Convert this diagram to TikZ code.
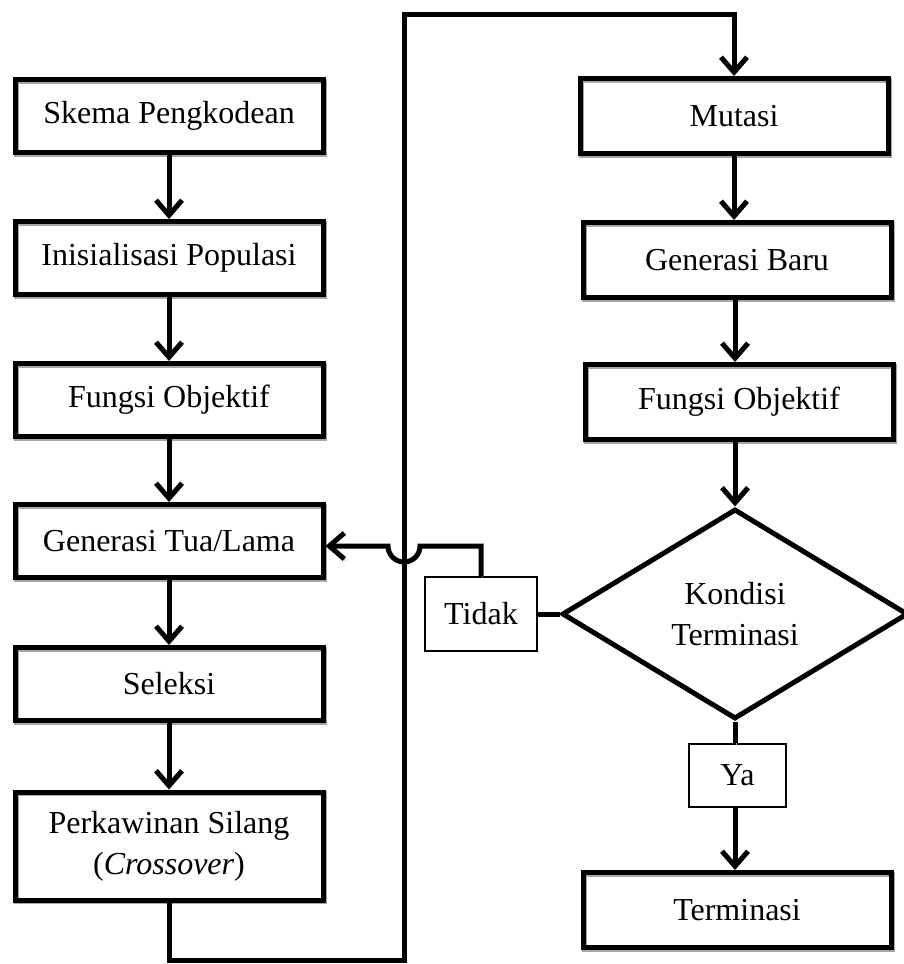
\documentclass[tikz,border=0pt]{standalone}
\usepackage{fontspec}
\setmainfont{Liberation Serif}
\usetikzlibrary{arrows.meta,shapes.geometric}
\begin{document}
\begin{tikzpicture}[x=1pt,y=-1pt,
  every node/.style={font=\fontsize{32}{41}\selectfont},
  shade line/.style={preaction={draw=black!35,transform canvas={shift={(1.6pt,-1.6pt)}}}},
  stepbox/.style={draw,line width=5pt,minimum width=308pt,minimum height=73pt,inner sep=0pt,align=center,shade line},
  decision/.style={draw,line width=5pt,diamond,minimum width=346pt,minimum height=210pt,inner sep=0pt,align=center},
  tag/.style={draw,line width=1.8pt,inner sep=0pt,align=center},
  conn/.style={line width=5pt,shade line},
  flow/.style={conn,-{Straight Barb[length=15pt,width=26pt]}}]
\useasboundingbox (0,0) rectangle (903,964);

% left column
\node[stepbox] (skema) at (169,116) {Skema Pengkodean};
\node[stepbox] (init)  at (169,258) {Inisialisasi Populasi};
\node[stepbox] (fobj1) at (169,400) {Fungsi Objektif};
\node[stepbox] (gtua)  at (169,541) {Generasi Tua/Lama};
\node[stepbox] (sel)   at (169,684) {Seleksi};
\node[stepbox,minimum height=108pt] (perk) at (169,846) {Perkawinan Silang\\(\textit{Crossover})};

% right column
\node[stepbox,minimum height=75pt] (mut) at (734,116) {Mutasi};
\node[stepbox,minimum height=75pt] (gbaru) at (737,260) {Generasi Baru};
\node[stepbox,minimum height=75pt] (fobj2) at (739,402) {Fungsi Objektif};
\node[decision] (kond) at (735,614) {Kondisi\\Terminasi};
\node[stepbox,minimum height=75pt] (term) at (737,910) {Terminasi};

% branch labels
\node[tag,minimum width=112pt,minimum height=74pt] (tidak) at (481,614) {Tidak};
\node[tag,minimum width=97pt,minimum height=63pt] (ya) at (737.5,775.5) {Ya};

% loop coordinates
\coordinate (loopB) at (404,960);
\coordinate (loopT) at (404,14);
\coordinate (hop) at (404,546);

% left chain
\draw[flow] (skema) -- (init);
\draw[flow] (init) -- (fobj1);
\draw[flow] (fobj1) -- (gtua);
\draw[flow] (gtua) -- (sel);
\draw[flow] (sel) -- (perk);

% crossover to mutation
\draw[flow] (perk.south) |- (loopB) -- (loopT) -| (mut.north);

% right chain
\draw[flow] (mut) -- (gbaru.north -| mut.south);
\draw[flow] (gbaru.south -| kond.north) -- (fobj2.north -| kond.north);
\draw[flow] (fobj2.south -| kond.north) -- (kond.north);
\draw[conn] (kond.south) -- (ya.north -| kond.south);
\draw[flow] (ya.south -| kond.south) -- (term.north -| kond.south);

% no-branch back to old generation, hopping over the loop line
\draw[conn] (kond.west) -- (tidak.east);
\draw[flow] (tidak.north) |- ([xshift=16pt]hop) arc[start angle=0,end angle=-180,radius=16pt] -- (gtua.east |- hop);
\end{tikzpicture}
\end{document}
